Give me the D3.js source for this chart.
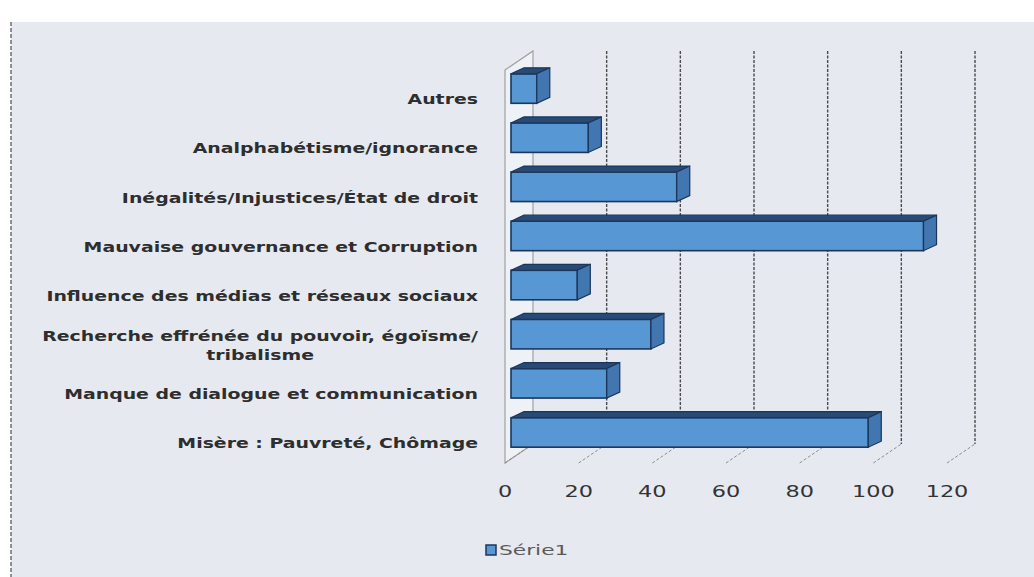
<!DOCTYPE html>
<html>
<head>
<meta charset="utf-8">
<script src="https://cdn.jsdelivr.net/npm/d3@7/dist/d3.min.js"></script>
<style>
  body { margin: 0; background: #ffffff; }
  svg text { font-family: "DejaVu Sans", sans-serif; }
</style>
</head>
<body>
<div id="chart"></div>
<script>
// categories, top to bottom as they appear in the chart
const categories = [
  "Autres",
  "Analphabétisme/ignorance",
  "Inégalités/Injustices/État de droit",
  "Mauvaise gouvernance et Corruption",
  "Influence des médias et réseaux sociaux",
  "Recherche effrénée du pouvoir, égoïsme/ tribalisme",
  "Manque de dialogue et communication",
  "Misère : Pauvreté, Chômage"
];
const serie1 = [7, 21, 45, 112, 18, 38, 26, 97];
const xTicks = [0, 20, 40, 60, 80, 100, 120];
const seriesName = "Série1";

const W = 1034, H = 577;
const svg = d3.select("#chart").append("svg")
  .attr("width", W)
  .attr("height", H);

// chart area background
svg.append("rect")
  .attr("x", 11).attr("y", 22)
  .attr("width", W - 11).attr("height", H - 22)
  .attr("fill", "#e6eaf0");
svg.append("line")
  .attr("x1", 11).attr("x2", 11).attr("y1", 22).attr("y2", H)
  .attr("stroke", "#6d6d6d").attr("stroke-width", 1.5)
  .attr("stroke-dasharray", "4,2");

// front plane scales
const x = d3.scaleLinear().domain([0, 120]).range([505, 947]);
const y = d3.scaleBand().domain(categories).range([70, 463])
  .paddingInner(0.4).paddingOuter(0.2);

// depth of the walls and of the bars
const wall = { dx: 28, dy: -19 };
const bar = { ox: 6, oy: -6, dx: 13, dy: -6 };
const floorY = 463, topY = 70;

// left wall
svg.append("polygon")
  .attr("points", [
    [x(0), topY], [x(0) + wall.dx, topY + wall.dy],
    [x(0) + wall.dx, floorY + wall.dy], [x(0), floorY]
  ].join(" "))
  .attr("fill", "#eef1f5")
  .attr("stroke", "#a0a0a0")
  .attr("stroke-width", 1.2);

// back wall gridlines
svg.selectAll(".grid")
  .data(xTicks.slice(1))
  .enter().append("line")
  .attr("class", "grid")
  .attr("x1", d => x(d) + wall.dx).attr("x2", d => x(d) + wall.dx)
  .attr("y1", topY + wall.dy).attr("y2", floorY + wall.dy)
  .attr("stroke", "#4a4a4a")
  .attr("stroke-width", 1.4)
  .attr("stroke-dasharray", "3,1.5");

// floor lines
svg.selectAll(".floor")
  .data(xTicks)
  .enter().append("line")
  .attr("class", "floor")
  .attr("x1", d => x(d)).attr("y1", floorY)
  .attr("x2", d => x(d) + wall.dx).attr("y2", floorY + wall.dy)
  .attr("stroke", "#8c8c8c")
  .attr("stroke-width", 1)
  .attr("stroke-dasharray", "3,2");

// bars
const rows = categories.map((c, i) => ({ cat: c, val: serie1[i] }));
const bw = y.bandwidth();
const g = svg.selectAll(".bar")
  .data(rows)
  .enter().append("g")
  .attr("class", "bar");

g.append("rect")
  .attr("x", d => x(0) + bar.ox)
  .attr("y", d => y(d.cat) + bar.oy)
  .attr("width", d => x(d.val) - x(0))
  .attr("height", bw)
  .attr("fill", "#5797d4")
  .attr("stroke", "#1b3659")
  .attr("stroke-width", 1.6);

g.append("polygon")
  .attr("points", d => {
    const x0 = x(0) + bar.ox, x1 = x(d.val) + bar.ox, y0 = y(d.cat) + bar.oy;
    return [[x0, y0], [x0 + bar.dx, y0 + bar.dy], [x1 + bar.dx, y0 + bar.dy], [x1, y0]].join(" ");
  })
  .attr("fill", "#274a76")
  .attr("stroke", "#1b3659")
  .attr("stroke-width", 1.2);

g.append("polygon")
  .attr("points", d => {
    const x1 = x(d.val) + bar.ox, y0 = y(d.cat) + bar.oy;
    return [[x1, y0], [x1 + bar.dx, y0 + bar.dy], [x1 + bar.dx, y0 + bar.dy + bw], [x1, y0 + bw]].join(" ");
  })
  .attr("fill", "#4176b0")
  .attr("stroke", "#1b3659")
  .attr("stroke-width", 1.2);

// category labels (wrapped label: second line centred under the first, as Excel does)
const labels = svg.selectAll(".lbl")
  .data(categories)
  .enter().append("text")
  .attr("class", "lbl")
  .attr("transform", d => "translate(478," + (y(d) + bw / 2 + 5) + ") scale(1.4,1)")
  .attr("text-anchor", "end")
  .attr("font-size", 13.5)
  .attr("font-weight", "bold")
  .attr("fill", "#2e2e2e");

labels.each(function(d) {
  const parts = d.split(" égoïsme/ ");
  const t = d3.select(this);
  if (parts.length > 1) {
    const first = t.append("tspan").attr("x", 0).attr("dy", "-0.3em").text(parts[0] + " égoïsme/");
    const w = first.node().getComputedTextLength();
    t.append("tspan").attr("x", -w / 2).attr("dy", "1.4em").attr("text-anchor", "middle").text(parts[1]);
  } else {
    t.append("tspan").attr("x", 0).attr("dy", "0.35em").text(d);
  }
});

// value axis labels
svg.selectAll(".tick-lbl")
  .data(xTicks)
  .enter().append("text")
  .attr("class", "tick-lbl")
  .attr("transform", d => "translate(" + x(d) + ",497) scale(1.4,1)")
  .attr("text-anchor", "middle")
  .attr("font-size", 16)
  .attr("fill", "#333")
  .text(d => d);

// legend
svg.append("rect")
  .attr("x", 486).attr("y", 545)
  .attr("width", 10).attr("height", 10)
  .attr("fill", "#5797d4")
  .attr("stroke", "#1b3659")
  .attr("stroke-width", 1.5);
svg.append("text")
  .attr("transform", "translate(499,555) scale(1.5,1)")
  .attr("font-size", 14.5)
  .attr("fill", "#5a5a5a")
  .text(seriesName);
</script>
</body>
</html>
